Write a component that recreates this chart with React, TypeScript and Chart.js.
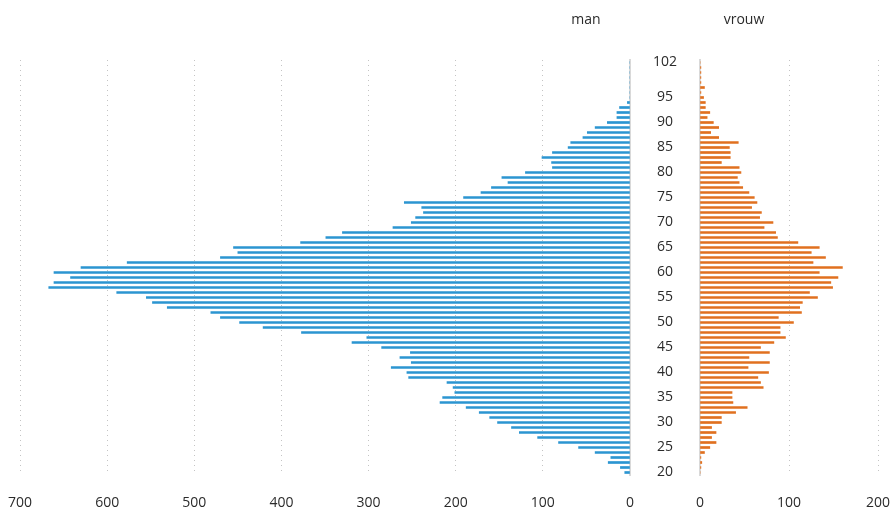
import React, { useEffect, useRef } from 'react';
import { Chart, registerables } from 'chart.js';

Chart.register(...registerables);

// Ages (categories), bottom (20) to top (102)
const ages: string[] = [
  '20', '21', '22', '23', '24', '25', '26', '27', '28', '29',
  '30', '31', '32', '33', '34', '35', '36', '37', '38', '39',
  '40', '41', '42', '43', '44', '45', '46', '47', '48', '49',
  '50', '51', '52', '53', '54', '55', '56', '57', '58', '59',
  '60', '61', '62', '63', '64', '65', '66', '67', '68', '69',
  '70', '71', '72', '73', '74', '75', '76', '77', '78', '79',
  '80', '81', '82', '83', '84', '85', '86', '87', '88', '89',
  '90', '91', '92', '93', '94', '95', '96', '97', '98', '99',
  '100', '101', '102',
];

const ageTickLabels: string[] = ['20', '25', '30', '35', '40', '45', '50', '55', '60', '65', '70', '75', '80', '85', '90', '95', '102'];

// man, ages 20..102
const manValues: number[] = [
  6, 11, 25, 22, 40, 59, 82, 106, 127, 136,
  152, 161, 173, 188, 218, 215, 201, 203, 210, 254,
  256, 274, 251, 264, 252, 285, 319, 302, 377, 421,
  448, 470, 481, 531, 548, 555, 589, 667, 661, 642,
  661, 630, 577, 470, 450, 455, 378, 349, 330, 272,
  251, 246, 237, 239, 259, 191, 171, 159, 140, 147,
  120, 89, 90, 101, 89, 71, 68, 54, 49, 40,
  26, 15, 15, 12, 3, 0, 0, 0, 0, 0,
  0, 0, 0,
];

// vrouw, ages 20..102
const vrouwValues: number[] = [
  0, 1, 2, 1, 5, 11, 18, 13, 18, 13,
  24, 24, 40, 53, 37, 36, 36, 71, 68, 65,
  77, 54, 78, 55, 78, 68, 83, 96, 90, 90,
  105, 88, 114, 112, 115, 132, 123, 149, 147, 155,
  134, 160, 127, 141, 125, 134, 110, 87, 85, 72,
  82, 67, 69, 58, 64, 61, 55, 48, 44, 42,
  46, 44, 24, 34, 34, 33, 43, 21, 12, 21,
  15, 8, 11, 6, 6, 4, 1, 5, 1, 1,
  1, 1, 0,
];

const manMax = 700;
const vrouwMax = 200;
const tickStep = 100;

const BLUE = '#2b95d1';
const ORANGE = '#e0701f';
const GRID = '#c4c4c4';
const ZERO = '#d9d9d9';
const TEXT = '#2b2b2b';
const FONT = { family: '"Open Sans", "DejaVu Sans", sans-serif', size: 14 };

const fitX = (s: any) => {
  s.paddingLeft = 14;
  s.paddingRight = 14;
  s.height = 37;
};

export default function App() {
  const leftRef = useRef<HTMLCanvasElement | null>(null);
  const rightRef = useRef<HTMLCanvasElement | null>(null);

  useEffect(() => {
    const tickSet = new Set(ageTickLabels);
    const gridColor = (ctx: any) => (ctx.tick && ctx.tick.value === 0 ? 'rgba(0,0,0,0)' : GRID);

    const left = new Chart(leftRef.current as HTMLCanvasElement, {
      type: 'bar',
      data: {
        labels: ages,
        datasets: [{ data: manValues, backgroundColor: BLUE, barThickness: 2 }],
      },
      options: {
        indexAxis: 'y',
        animation: false,
        responsive: false,
        maintainAspectRatio: false,
        layout: { padding: { left: 20, top: 60, right: 0, bottom: 0 } },
        plugins: { legend: { display: false }, tooltip: { enabled: false } },
        scales: {
          x: {
            min: 0,
            max: manMax,
            reverse: true,
            ticks: { stepSize: tickStep, font: FONT, color: TEXT, padding: 20 },
            grid: { color: gridColor, drawTicks: false, lineWidth: 1 },
            border: { display: false, dash: [1, 4] },
            afterFit: fitX,
          },
          y: {
            position: 'right',
            reverse: true,
            grid: { display: false, drawTicks: false },
            border: { display: true, color: ZERO, width: 2 },
            ticks: {
              autoSkip: false,
              crossAlign: 'center',
              padding: 23,
              font: FONT,
              color: TEXT,
              callback: (v: any) => (tickSet.has(ages[v]) ? ages[v] : ''),
            },
            afterFit: (s: any) => {
              s.width = 70;
              s.paddingTop = 0;
              s.paddingBottom = 0;
            },
          },
        },
      } as any,
    });

    const right = new Chart(rightRef.current as HTMLCanvasElement, {
      type: 'bar',
      data: {
        labels: ages,
        datasets: [{ data: vrouwValues, backgroundColor: ORANGE, barThickness: 2 }],
      },
      options: {
        indexAxis: 'y',
        animation: false,
        responsive: false,
        maintainAspectRatio: false,
        layout: { padding: { left: 20, top: 60, right: 16, bottom: 0 } },
        plugins: { legend: { display: false }, tooltip: { enabled: false } },
        scales: {
          x: {
            min: 0,
            max: vrouwMax,
            ticks: { stepSize: tickStep, font: FONT, color: TEXT, padding: 20 },
            grid: { color: gridColor, drawTicks: false, lineWidth: 1 },
            border: { display: false, dash: [1, 4] },
            afterFit: fitX,
          },
          y: {
            position: 'left',
            reverse: true,
            grid: { display: false, drawTicks: false },
            border: { display: true, color: ZERO, width: 2 },
            ticks: { display: false },
            afterFit: (s: any) => {
              s.width = 0;
            },
          },
        },
      } as any,
    });

    return () => {
      left.destroy();
      right.destroy();
    };
  }, []);

  const labelStyle: React.CSSProperties = {
    position: 'absolute',
    top: 18,
    transform: 'translate(-50%, -50%)',
    fontFamily: '"Open Sans", "DejaVu Sans", sans-serif',
    fontSize: 14,
    color: TEXT,
    whiteSpace: 'nowrap',
  };

  return (
    <div
      style={{
        position: 'absolute',
        left: 0,
        top: 0,
        width: 894,
        height: 510,
        overflow: 'hidden',
        background: '#fff',
      }}
    >
      <canvas
        ref={leftRef}
        width={700}
        height={512}
        style={{ position: 'absolute', left: 0, top: 0, width: 700, height: 512 }}
      />
      <canvas
        ref={rightRef}
        width={214}
        height={512}
        style={{ position: 'absolute', left: 680, top: 0, width: 214, height: 512 }}
      />
      <div style={{ ...labelStyle, left: 586 }}>man</div>
      <div style={{ ...labelStyle, left: 744 }}>vrouw</div>
    </div>
  );
}
